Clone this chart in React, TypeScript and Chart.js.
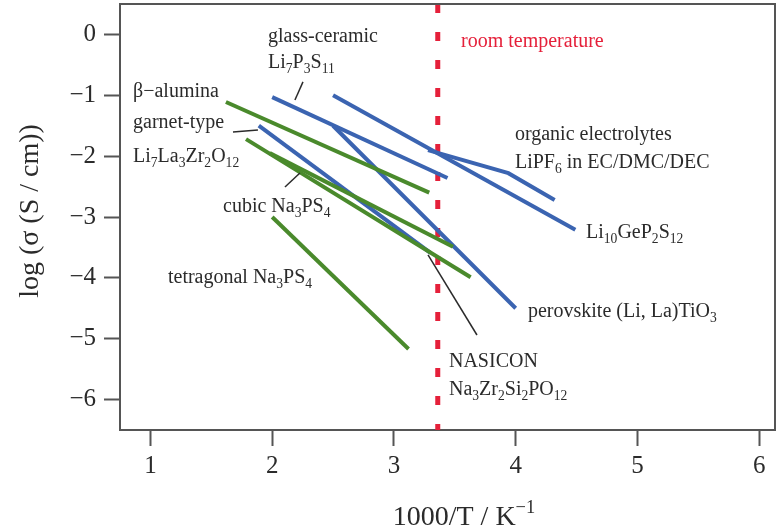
import React, { useEffect, useRef } from 'react';
import { Chart, registerables } from 'chart.js';

Chart.register(...registerables);

const BLUE = '#3b64b1';
const GREEN = '#4a8a2c';
const RED = '#e5203a';
const INK = '#2b2b2b';
const AXIS = '#555555';
const FONT = '"Liberation Serif", "DejaVu Serif", serif';

// Axis ranges and tick values (x: 1000/T in K^-1, y: log σ in S/cm)
const xTicks = [1, 2, 3, 4, 5, 6];
const yTicks = [-6, -5, -4, -3, -2, -1, 0];
const roomTemperatureX = 3.36;

// Lithium-ion conductors: [1000/T, log σ]
const glassCeramic = [[2.0, -1.03], [3.44, -2.36]];
const li10GeP2S12 = [[2.5, -1.0], [4.49, -3.21]];
const organicElectrolyte = [[3.28, -1.9], [3.94, -2.28], [4.32, -2.72]];
const perovskite = [[2.5, -1.5], [4.0, -4.5]];
const garnet = [[1.89, -1.5], [3.3, -3.59]];

// Sodium-ion conductors: [1000/T, log σ]
const betaAlumina = [[1.62, -1.11], [3.29, -2.6]];
const cubicNa3PS4 = [[1.785, -1.72], [3.63, -3.99]];
const nasicon = [[1.98, -1.95], [3.485, -3.49]];
const tetragonalNa3PS4 = [[2.0, -3.0], [3.12, -5.17]];

// Leader lines from labels to curves
const leaderGlass = [[2.253, -0.78], [2.187, -1.077]];
const leaderGarnet = [[1.678, -1.603], [1.883, -1.57]];
const leaderCubic = [[2.105, -2.507], [2.228, -2.277]];
const leaderNasicon = [[3.28, -3.624], [3.682, -4.939]];

// Text annotations: left edge and baseline in data units
const annotations = [
  { text: 'glass-ceramic', x: 1.966, y: -0.124, color: INK },
  { text: 'Li_{7}P_{3}S_{11}', x: 1.966, y: -0.552, color: INK },
  { text: 'room temperature', x: 3.551, y: -0.207, color: RED },
  { text: 'β−alumina', x: 0.857, y: -1.028, color: INK },
  { text: 'garnet-type', x: 0.857, y: -1.537, color: INK },
  { text: 'Li_{7}La_{3}Zr_{2}O_{12}', x: 0.857, y: -2.096, color: INK },
  { text: 'cubic Na_{3}PS_{4}', x: 1.596, y: -2.918, color: INK },
  { text: 'tetragonal Na_{3}PS_{4}', x: 1.144, y: -4.084, color: INK },
  { text: 'organic electrolytes', x: 3.994, y: -1.735, color: INK },
  { text: 'LiPF_{6} in EC/DMC/DEC', x: 3.994, y: -2.195, color: INK },
  { text: 'Li_{10}GeP_{2}S_{12}', x: 4.578, y: -3.345, color: INK },
  { text: 'perovskite (Li, La)TiO_{3}', x: 4.101, y: -4.643, color: INK },
  { text: 'NASICON', x: 3.452, y: -5.465, color: INK },
  { text: 'Na_{3}Zr_{2}Si_{2}PO_{12}', x: 3.452, y: -5.925, color: INK },
];

const xTitle = '1000/T / K^{−1}';
const yTitle = 'log (σ (S / cm))';

type Pt = number[];

function series(points: Pt[], color: string, width: number, order: number, dash: number[] = []) {
  return {
    data: points.map(([x, y]) => ({ x, y })),
    showLine: true,
    borderColor: color,
    backgroundColor: color,
    borderWidth: width,
    borderDash: dash,
    borderCapStyle: 'butt' as const,
    pointRadius: 0,
    pointHoverRadius: 0,
    tension: 0,
    fill: false,
    order,
  };
}

// Draws text with _{sub} and ^{sup} segments
function drawRich(
  ctx: CanvasRenderingContext2D,
  text: string,
  x: number,
  y: number,
  size: number,
  color: string,
  align: 'left' | 'center' = 'left'
) {
  const parts = text.split(/(_\{[^}]*\}|\^\{[^}]*\})/).filter((p) => p.length > 0);
  const segs = parts.map((p) => {
    if (p.startsWith('_{')) return { t: p.slice(2, -1), s: size * 0.68, dy: size * 0.27 };
    if (p.startsWith('^{')) return { t: p.slice(2, -1), s: size * 0.66, dy: -size * 0.42 };
    return { t: p, s: size, dy: 0 };
  });
  ctx.save();
  ctx.fillStyle = color;
  ctx.textAlign = 'left';
  ctx.textBaseline = 'alphabetic';
  let total = 0;
  for (const sg of segs) {
    ctx.font = `${sg.s}px ${FONT}`;
    total += ctx.measureText(sg.t).width;
  }
  let cx = align === 'center' ? x - total / 2 : x;
  for (const sg of segs) {
    ctx.font = `${sg.s}px ${FONT}`;
    ctx.fillText(sg.t, cx, y + sg.dy);
    cx += ctx.measureText(sg.t).width;
  }
  ctx.restore();
}

const decorations = {
  id: 'decorations',
  afterDraw(chart: any) {
    const { ctx, chartArea, scales } = chart;
    const xs = scales.x;
    const ys = scales.y;

    // top and right frame edges
    ctx.save();
    ctx.strokeStyle = AXIS;
    ctx.lineWidth = 2;
    ctx.beginPath();
    ctx.moveTo(chartArea.left, chartArea.top);
    ctx.lineTo(chartArea.right, chartArea.top);
    ctx.lineTo(chartArea.right, chartArea.bottom);
    ctx.stroke();
    ctx.restore();

    for (const a of annotations) {
      drawRich(ctx, a.text, xs.getPixelForValue(a.x), ys.getPixelForValue(a.y), 20, a.color);
    }

    // axis titles
    drawRich(ctx, xTitle, 464, 525, 28, INK, 'center');

    ctx.save();
    ctx.translate(31, 211);
    ctx.rotate(-Math.PI / 2);
    ctx.font = `28px ${FONT}`;
    ctx.fillStyle = INK;
    ctx.textAlign = 'center';
    ctx.textBaseline = 'middle';
    ctx.fillText(yTitle, 0, 0);
    ctx.restore();
  },
};

export default function App() {
  const ref = useRef<HTMLCanvasElement | null>(null);

  useEffect(() => {
    if (!ref.current) return;
    const datasets = [
      series([[roomTemperatureX, 0.5], [roomTemperatureX, -6.5]], RED, 5, 20, [9, 19]),
      series(glassCeramic, BLUE, 4, 10),
      series(li10GeP2S12, BLUE, 4, 10),
      series(organicElectrolyte, BLUE, 4, 10),
      series(perovskite, BLUE, 4, 10),
      series(garnet, BLUE, 4, 10),
      series(betaAlumina, GREEN, 4, 5),
      series(cubicNa3PS4, GREEN, 4, 5),
      series(nasicon, GREEN, 4, 5),
      series(tetragonalNa3PS4, GREEN, 4, 5),
      series(leaderGlass, INK, 1.5, 1),
      series(leaderGarnet, INK, 1.5, 1),
      series(leaderCubic, INK, 1.5, 1),
      series(leaderNasicon, INK, 1.5, 1),
    ];

    const tickMinus = (v: any) => {
      const n = Number(v);
      return n < 0 ? '−' + Math.abs(n) : String(n);
    };

    const chart = new Chart(ref.current, {
      type: 'scatter',
      data: { datasets: datasets as any },
      options: {
        responsive: false,
        animation: false,
        events: [],
        layout: { padding: { left: 0, top: 4, right: 3, bottom: 0 } },
        plugins: { legend: { display: false }, tooltip: { enabled: false } },
        scales: {
          x: {
            type: 'linear',
            min: 0.75,
            max: 6.13,
            afterBuildTicks: (s: any) => {
              s.ticks = xTicks.map((v) => ({ value: v }));
            },
            afterFit: (s: any) => {
              s.height = 102;
              s.paddingLeft = 0;
              s.paddingRight = 0;
            },
            border: { display: true, color: AXIS, width: 2 },
            grid: { drawOnChartArea: false, drawTicks: true, tickLength: 16, tickColor: AXIS, tickWidth: 2 },
            ticks: {
              color: INK,
              font: { family: FONT, size: 25 },
              padding: 5,
              maxRotation: 0,
              autoSkip: false,
              callback: tickMinus,
            },
          },
          y: {
            type: 'linear',
            min: -6.5,
            max: 0.5,
            afterBuildTicks: (s: any) => {
              s.ticks = yTicks.map((v) => ({ value: v }));
            },
            afterFit: (s: any) => {
              s.width = 120;
              s.paddingTop = 0;
              s.paddingBottom = 0;
            },
            border: { display: true, color: AXIS, width: 2 },
            grid: { drawOnChartArea: false, drawTicks: true, tickLength: 16, tickColor: AXIS, tickWidth: 2 },
            ticks: {
              color: INK,
              font: { family: FONT, size: 25 },
              padding: 8,
              autoSkip: false,
              callback: tickMinus,
            },
          },
        },
      },
      plugins: [decorations],
    });
    return () => chart.destroy();
  }, []);

  return (
    <div style={{ position: 'absolute', left: 0, top: 0, width: 778, height: 532, background: '#fff' }}>
      <canvas ref={ref} width={778} height={532} />
    </div>
  );
}
